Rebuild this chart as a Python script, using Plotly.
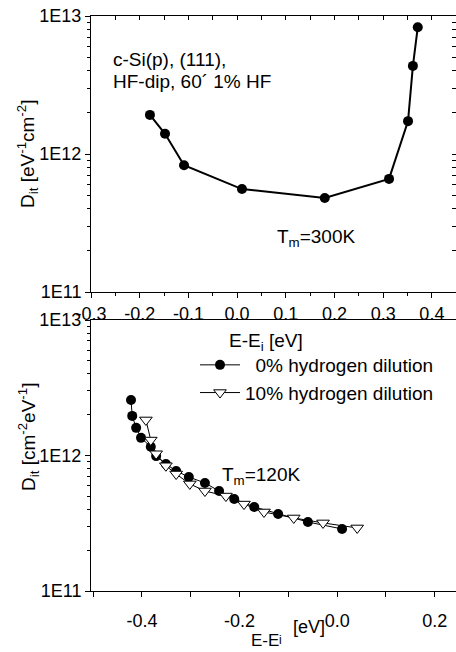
import plotly.graph_objects as go

# ---------------- data ----------------
top_x = [-0.179, -0.148, -0.109, 0.010, 0.180, 0.312, 0.351, 0.361, 0.371]
top_y = [1.92e12, 1.40e12, 8.3e11, 5.57e11, 4.8e11, 6.6e11, 1.73e12, 4.35e12, 8.3e12]

h0_x = [-0.4225, -0.420, -0.412, -0.402, -0.382, -0.371, -0.351, -0.330, -0.304,
        -0.271, -0.242, -0.211, -0.170, -0.121, -0.060, 0.010]
h0_y = [2.57e12, 1.96e12, 1.60e12, 1.35e12, 1.16e12, 9.9e11, 8.65e11, 7.69e11, 6.94e11,
        6.27e11, 5.47e11, 4.78e11, 4.17e11, 3.70e11, 3.23e11, 2.87e11]

h10_x = [-0.392, -0.382, -0.371, -0.351, -0.330, -0.302, -0.271, -0.228, -0.191,
         -0.150, -0.089, -0.029, 0.041]
h10_y = [1.83e12, 1.30e12, 1.03e12, 8.4e11, 7.3e11, 6.17e11, 5.47e11, 5.02e11, 4.38e11,
         3.83e11, 3.46e11, 3.18e11, 2.92e11]

y_tickvals = [1e11, 1e12, 1e13]
y_ticktext = ["1E11", "1E12", "1E13"]
top_xtickvals = [-0.3, -0.2, -0.1, 0.0, 0.1, 0.2, 0.3, 0.4]
top_xticktext = ["-0.3", "-0.2", "-0.1", "0.0", "0.1", "0.2", "0.3", "0.4"]
bot_xtickvals = [-0.4, -0.2, 0.0, 0.2]
bot_xticktext = ["-0.4", "-0.2", "0.0", "0.2"]
legend_names = ["\u00a0\u00a00% hydrogen dilution", "10% hydrogen dilution"]

# ---------------- figure ----------------
W, H = 456, 652
FONT = "Liberation Sans, Arial, sans-serif"

fig = go.Figure()

fig.add_trace(go.Scatter(
    x=top_x, y=top_y, mode="lines+markers", xaxis="x", yaxis="y",
    line=dict(color="black", width=2),
    marker=dict(symbol="circle", size=10, color="black"),
    showlegend=False))

fig.add_trace(go.Scatter(
    x=h0_x, y=h0_y, mode="lines+markers", xaxis="x2", yaxis="y2",
    name=legend_names[0],
    line=dict(color="black", width=1),
    marker=dict(symbol="circle", size=10, color="black")))

fig.add_trace(go.Scatter(
    x=h10_x, y=h10_y, mode="lines+markers", xaxis="x2", yaxis="y2",
    name=legend_names[1],
    line=dict(color="black", width=1),
    marker=dict(symbol="triangle-down", size=11, color="white",
                line=dict(color="black", width=1))))

# invisible trace to host the inward-tick overlay axes of the top panel
fig.add_trace(go.Scatter(x=[None], y=[None], xaxis="x3", yaxis="y3",
                         showlegend=False, hoverinfo="skip"))

xdom = [91 / W, 1.0]
top_dom = [1 - 292 / H, 1 - 16 / H]
bot_dom = [1 - 591 / H, 1 - 320 / H]
top_xr = [-0.3, 0.4495]
bot_xr = [-0.5045, 0.2435]

tickfont = dict(family=FONT, size=18, color="black")

common_y = dict(type="log", range=[11, 13], tickvals=y_tickvals, ticktext=y_ticktext,
                ticks="outside", ticklen=5, tickwidth=1, tickcolor="black",
                showline=True, linecolor="black", linewidth=1, mirror=True,
                showgrid=False, zeroline=False, tickfont=tickfont, automargin=False,
                minor=dict(ticks="outside", ticklen=3, tickcolor="black", dtick="D1",
                           showgrid=False))

fig.update_layout(
    width=W, height=H,
    margin=dict(l=0, r=0, t=0, b=0, autoexpand=False),
    paper_bgcolor="white", plot_bgcolor="white",
    font=dict(family=FONT, size=19, color="black"),
    xaxis=dict(domain=xdom, anchor="y", range=top_xr,
               tickvals=top_xtickvals, ticktext=top_xticktext,
               ticks="outside", ticklen=5, tickwidth=1, automargin=False,
               tickcolor="black", showline=True, linecolor="black", linewidth=1,
               mirror=True, showgrid=False, zeroline=False, tickfont=tickfont,
               minor=dict(ticks="outside", ticklen=3, dtick=0.05, tick0=0,
                          tickcolor="black", showgrid=False)),
    yaxis=dict(domain=top_dom, anchor="x", **common_y),
    xaxis3=dict(overlaying="x", anchor="y", side="top", range=top_xr, dtick=0.05,
                tick0=0, ticks="inside", ticklen=4, tickcolor="black", automargin=False,
                showticklabels=False, showgrid=False, zeroline=False, showline=False),
    yaxis3=dict(overlaying="y", anchor="x", side="right", type="log", range=[11, 13],
                dtick="D1", ticks="inside", ticklen=4, tickcolor="black", automargin=False,
                showticklabels=False, showgrid=False, zeroline=False, showline=False),
    xaxis2=dict(domain=xdom, anchor="y2", range=bot_xr,
                tickvals=bot_xtickvals, ticktext=bot_xticktext,
                ticks="outside", ticklen=5, tickwidth=1, automargin=False,
                tickcolor="black", showline=True, linecolor="black", linewidth=1,
                mirror=True, showgrid=False, zeroline=False, tickfont=tickfont,
                ticklabelstandoff=8,
                minor=dict(ticks="outside", ticklen=5, dtick=0.1, tick0=0,
                           tickcolor="black", showgrid=False)),
    yaxis2=dict(domain=bot_dom, anchor="x2", **common_y),
    legend=dict(x=195 / W, y=1 - 346 / H, xanchor="left", yanchor="top",
                bgcolor="rgba(0,0,0,0)", font=dict(family=FONT, size=19, color="black"),
                tracegroupgap=0, itemwidth=40),
)

def ann(text, x, y, xanchor="left", yanchor="middle", size=19, angle=0):
    fig.add_annotation(text=text, xref="paper", yref="paper", x=x / W, y=1 - y / H,
                       xanchor=xanchor, yanchor=yanchor, showarrow=False,
                       textangle=angle, font=dict(family=FONT, size=size, color="black"))

ann("c-Si(p), (111),", 111, 59)
ann("HF-dip, 60\u00b4 1% HF", 111, 81)
ann("T<sub>m</sub>=300K", 275, 238)
ann("T<sub>m</sub>=120K", 220, 476)
ann("E-E<sub>i</sub> [eV]", 266, 342, xanchor="center")
ann("D<sub>it</sub> [eV<sup>-1</sup>cm<sup>-2</sup>]", 28, 154, xanchor="center", angle=-90)
ann("D<sub>it</sub> [cm<sup>-2</sup>eV<sup>-1</sup>]", 28, 437, xanchor="center", angle=-90)
ann("E-E", 249, 640, size=17)
ann("i", 277, 640, size=12)
ann("[eV]", 291, 627, size=18)

fig.write_html("out.html",
               config={"displayModeBar": False},
               post_script="document.body.style.margin='0';"
                           "document.body.style.overflow='hidden';")
